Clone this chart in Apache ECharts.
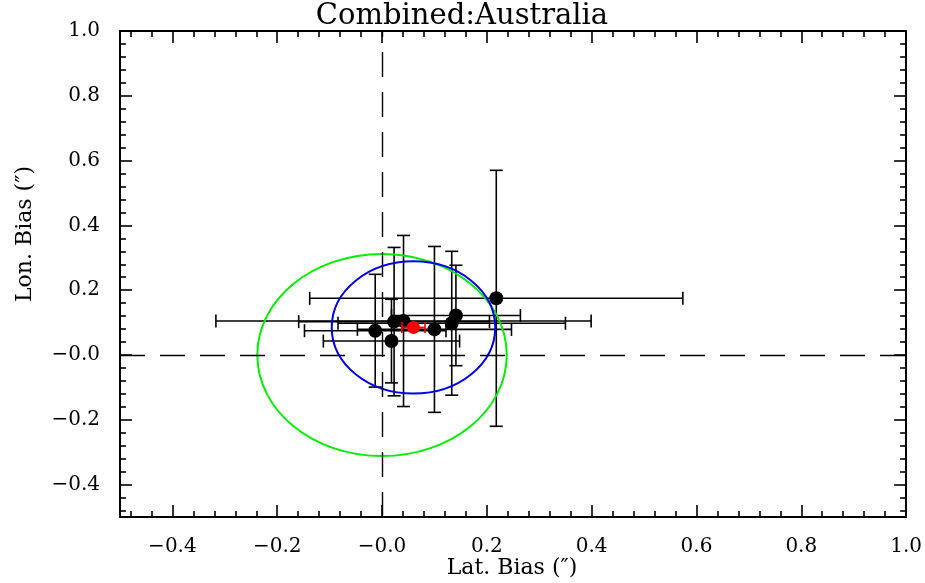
<!DOCTYPE html>
<html>
<head>
<meta charset="utf-8">
<script src="https://cdn.jsdelivr.net/npm/echarts@6/dist/echarts.min.js"></script>
<style>
  html, body { margin: 0; padding: 0; background: #ffffff; }
  #chart { width: 925px; height: 583px; }
</style>
</head>
<body>
<div id="chart"></div>
<script>
// Individual solutions: latitude / longitude bias and their 1-sigma errors (arcsec)
const latBias = [0.218, -0.013, 0.023, 0.041, 0.018, 0.100, 0.133, 0.141];
const lonBias = [0.175, 0.075, 0.103, 0.105, 0.043, 0.079, 0.098, 0.122];
const latErr  = [0.356, 0.135, 0.182, 0.358, 0.130, 0.147, 0.217, 0.123];
const lonErr  = [0.395, 0.174, 0.229, 0.264, 0.129, 0.256, 0.222, 0.155];

// Combined (mean) solution
const meanLat = [0.060];
const meanLon = [0.085];
const meanLatErr = [0.022];
const meanLonErr = [0.010];

// Confidence ellipses: centre and semi-axes
const ellipseLat    = [0.0, 0.060];
const ellipseLon    = [0.0, 0.085];
const ellipseRadLat = [0.238, 0.156];
const ellipseRadLon = [0.312, 0.204];
const ellipseColors = ['#00ee00', '#0000ee'];

const titleText = 'Combined:Australia';
const xName = 'Lat. Bias (\u2033)';
const yName = 'Lon. Bias (\u2033)';

const FONT = '"DejaVu Serif", serif';

const pointData = latBias.map((v, i) => [v, lonBias[i], latErr[i], lonErr[i]]);
const meanData = meanLat.map((v, i) => [v, meanLon[i], meanLatErr[i], meanLonErr[i]]);
const ellipseData = ellipseLat.map((v, i) => [v, ellipseLon[i], ellipseRadLat[i], ellipseRadLon[i], i]);

function tickFormatter(v) {
  if (v < -0.45) return '';
  if (Math.abs(v) < 1e-9) return '\u22120.0';
  return (v < 0 ? '\u2212' : '') + Math.abs(v).toFixed(1);
}

function errorBars(color, width, cap) {
  return function (params, api) {
    const x = api.value(0), y = api.value(1), ex = api.value(2), ey = api.value(3);
    const l = api.coord([x - ex, y]);
    const r = api.coord([x + ex, y]);
    const t = api.coord([x, y + ey]);
    const b = api.coord([x, y - ey]);
    const style = { stroke: color, lineWidth: width, fill: null };
    const seg = (x1, y1, x2, y2) => ({ type: 'line', shape: { x1, y1, x2, y2 }, style });
    return {
      type: 'group',
      children: [
        seg(l[0], l[1], r[0], r[1]),
        seg(l[0], l[1] - cap, l[0], l[1] + cap),
        seg(r[0], r[1] - cap, r[0], r[1] + cap),
        seg(t[0], t[1], b[0], b[1]),
        seg(t[0] - cap, t[1], t[0] + cap, t[1]),
        seg(b[0] - cap, b[1], b[0] + cap, b[1])
      ]
    };
  };
}

function ellipseItem(params, api) {
  const c = api.coord([api.value(0), api.value(1)]);
  const s = api.size([api.value(2), api.value(3)]);
  return {
    type: 'ellipse',
    shape: { cx: c[0], cy: c[1], rx: s[0], ry: s[1] },
    style: { stroke: ellipseColors[api.value(4)], lineWidth: 2, fill: null }
  };
}

function valueAxis(position, showLabels) {
  return {
    type: 'value',
    position: position,
    min: -0.5,
    max: 1.0,
    splitNumber: 8,
    axisLine: { show: true, onZero: false, lineStyle: { color: '#000', width: 2 } },
    axisTick: { show: true, inside: true, length: 12, lineStyle: { color: '#000', width: 1.6 } },
    minorTick: { show: true, splitNumber: 5, length: 6, lineStyle: { color: '#000', width: 1.6 } },
    splitLine: { show: false },
    minorSplitLine: { show: false },
    axisLabel: {
      show: showLabels,
      formatter: tickFormatter,
      color: '#000',
      fontFamily: FONT,
      fontSize: 20,
      margin: 20
    }
  };
}

const chart = echarts.init(document.getElementById('chart'), null, { renderer: 'canvas' });

chart.setOption({
  animation: false,
  backgroundColor: '#ffffff',
  grid: { left: 120, top: 31, right: 17, bottom: 66, containLabel: false },
  xAxis: [valueAxis('bottom', true), valueAxis('top', false)],
  yAxis: [valueAxis('left', true), valueAxis('right', false)],
  graphic: [
    {
      type: 'text',
      x: 462, y: 16,
      style: { text: titleText, font: '29px ' + FONT, fill: '#000', align: 'center', verticalAlign: 'middle' }
    },
    {
      type: 'text',
      x: 512, y: 568,
      style: { text: xName, font: '22px ' + FONT, fill: '#000', align: 'center', verticalAlign: 'middle' }
    },
    {
      type: 'text',
      x: 25, y: 234,
      rotation: Math.PI / 2,
      style: { text: yName, font: '22px ' + FONT, fill: '#000', align: 'center', verticalAlign: 'middle' }
    }
  ],
  series: [
    {
      name: 'errors',
      type: 'custom',
      renderItem: errorBars('#000', 1.6, 6.5),
      data: pointData,
      encode: { x: 0, y: 1 },
      z: 2,
      markLine: {
        silent: true,
        symbol: 'none',
        label: { show: false },
        lineStyle: { color: '#000', width: 1.4, type: [25, 15] },
        data: [{ xAxis: 0 }, { yAxis: 0 }]
      }
    },
    {
      name: 'ellipses',
      type: 'custom',
      renderItem: ellipseItem,
      data: ellipseData,
      encode: { x: 0, y: 1 },
      z: 3
    },
    {
      name: 'points',
      type: 'scatter',
      symbol: 'circle',
      symbolSize: 14,
      itemStyle: { color: '#000', opacity: 1 },
      data: pointData.map(d => [d[0], d[1]]),
      z: 4
    },
    {
      name: 'mean errors',
      type: 'custom',
      renderItem: errorBars('#ff0000', 1.6, 5.5),
      data: meanData,
      encode: { x: 0, y: 1 },
      z: 5
    },
    {
      name: 'mean',
      type: 'scatter',
      symbol: 'circle',
      symbolSize: 13,
      itemStyle: { color: '#ff0000', opacity: 1 },
      data: meanData.map(d => [d[0], d[1]]),
      z: 6
    }
  ]
});
</script>
</body>
</html>
